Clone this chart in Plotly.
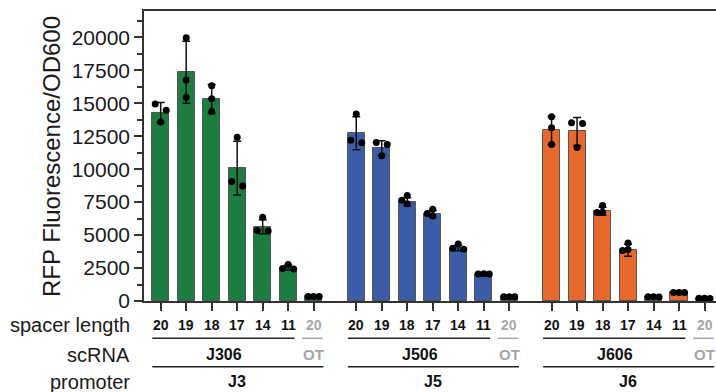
import plotly.graph_objects as go

# ---- data -------------------------------------------------------------
spacer_lengths = ["20", "19", "18", "17", "14", "11", "20"]
promoters = ["J3", "J5", "J6"]
scrnas = ["J306", "J506", "J606"]
offtarget_label = "OT"

# mean RFP/OD600, standard deviation and the three replicates per bar
j3_mean = [14300, 17350, 15320, 10080, 5620, 2540, 350]
j3_sd = [760, 2350, 1100, 2040, 540, 190, 20]
j3_reps = [[14940, 14480, 13570], [19970, 16760, 15440], [16330, 15340, 14380],
           [12430, 9070, 8730], [6355, 5345, 5315], [2760, 2460, 2430],
           [340, 340, 340]]

j5_mean = [12730, 11600, 7520, 6600, 4020, 2040, 320]
j5_sd = [1250, 550, 320, 260, 210, 20, 10]
j5_reps = [[14180, 12200, 12000], [12030, 11880, 11010], [8000, 7650, 7370],
           [6960, 6640, 6450], [4330, 4000, 3930], [2060, 2050, 2040],
           [330, 330, 320]]

j6_mean = [12940, 12860, 6810, 3850, 320, 650, 200]
j6_sd = [1060, 1070, 300, 450, 10, 10, 10]
j6_reps = [[13970, 13140, 11880], [13520, 13470, 11650], [7240, 6740, 6710],
           [4400, 3900, 3830], [320, 320, 310], [650, 650, 640],
           [210, 200, 190]]

group_colors = ["#1b7d3f", "#3b5da9", "#e8692b"]

# ---- geometry ---------------------------------------------------------
W, H = 716, 392
M_L, M_R, M_T, M_B = 144, 0, 11, 91
plot_w = W - M_L - M_R
plot_h = H - M_T - M_B
X_RANGE = [-0.655, 21.78]
Y_RANGE = [0, 22000]
px_per_x = plot_w / (X_RANGE[1] - X_RANGE[0])
px_per_y = plot_h / (Y_RANGE[1] - Y_RANGE[0])
group_starts = [0.0, 7.67, 15.33]
FONT = "Liberation Sans, Arial, Helvetica, sans-serif"


def paper_y(py):
    """Pixel row (from top of page) -> paper y coordinate."""
    return (H - M_B - py) / plot_h


def paper_x(px):
    return (px - M_L) / plot_w


def swarm_offsets(values, step_px=5.5, diam_px=5.4):
    """Spread overlapping replicate dots sideways, in x data units."""
    order = sorted(range(len(values)), key=lambda i: -values[i])
    clusters, cur = [], [order[0]]
    for a, b in zip(order, order[1:]):
        if abs(values[a] - values[b]) * px_per_y < 7.0:
            cur.append(b)
        else:
            clusters.append(cur)
            cur = [b]
    clusters.append(cur)
    offs = {}
    for c in clusters:
        if len(c) == 1:
            offs[c[0]] = 0.0
        elif len(c) == 2:
            offs[c[0]], offs[c[1]] = -step_px, step_px
        else:
            placed = []
            for i in c:
                yi = values[i] * px_per_y
                for cand in (0, -step_px, step_px, -2 * step_px, 2 * step_px):
                    ok = all(((cand - ox) ** 2 + (yi - oy) ** 2) ** 0.5 >= diam_px
                             for ox, oy in placed)
                    if ok:
                        offs[i] = cand
                        placed.append((cand, yi))
                        break
    return [offs[i] / px_per_x for i in range(len(values))]


fig = go.Figure()

groups = [(j3_mean, j3_sd, j3_reps), (j5_mean, j5_sd, j5_reps), (j6_mean, j6_sd, j6_reps)]
all_ticks = []
for g, (means, sds, reps) in enumerate(groups):
    xs = [group_starts[g] + i for i in range(len(means))]
    all_ticks += xs
    fig.add_trace(go.Bar(
        x=xs, y=means, width=0.67,
        marker=dict(color=group_colors[g], line=dict(color="#555555", width=1)),
        error_y=dict(type="data", array=sds, visible=True, color="#111111",
                     thickness=1.5, width=4),
        showlegend=False, hoverinfo="skip"))
    dx, dy = [], []
    for x0, r in zip(xs, reps):
        offs = swarm_offsets(r)
        dx += [x0 + o for o in offs]
        dy += r
    fig.add_trace(go.Scatter(
        x=dx, y=dy, mode="markers", cliponaxis=False,
        marker=dict(color="#000000", size=7, line=dict(width=0)),
        showlegend=False, hoverinfo="skip"))

annotations = []
shapes = []

# row captions on the left
for text, py in (("spacer length", 325), ("scRNA", 354.5), ("promoter", 382)):
    annotations.append(dict(
        text=text, xref="paper", yref="paper", x=paper_x(132), y=paper_y(py),
        xanchor="right", yanchor="middle", showarrow=False,
        font=dict(family=FONT, size=20, color="#1a1a1a")))

GRAY = "#a6a6a6"
for g, start in enumerate(group_starts):
    # spacer lengths under each bar
    for i, s in enumerate(spacer_lengths):
        annotations.append(dict(
            text="<b>%s</b>" % s, xref="x", yref="paper", x=start + i,
            y=paper_y(325), xanchor="center", yanchor="middle", showarrow=False,
            font=dict(family=FONT, size=14,
                      color=GRAY if i == len(spacer_lengths) - 1 else "#111111")))
    # scRNA row
    annotations.append(dict(
        text="<b>%s</b>" % scrnas[g], xref="x", yref="paper", x=start + 2.5,
        y=paper_y(354), xanchor="center", yanchor="middle", showarrow=False,
        font=dict(family=FONT, size=16, color="#111111")))
    annotations.append(dict(
        text="<b>%s</b>" % offtarget_label, xref="x", yref="paper", x=start + 6,
        y=paper_y(354), xanchor="center", yanchor="middle", showarrow=False,
        font=dict(family=FONT, size=15, color=GRAY)))
    # promoter row
    annotations.append(dict(
        text="<b>%s</b>" % promoters[g], xref="x", yref="paper", x=start + 3,
        y=paper_y(381.5), xanchor="center", yanchor="middle", showarrow=False,
        font=dict(family=FONT, size=16, color="#111111")))
    # bracket lines
    shapes.append(dict(type="line", xref="x", yref="paper",
                       x0=start - 0.33, x1=start + 5.25,
                       y0=paper_y(338.3), y1=paper_y(338.3),
                       line=dict(color="#222222", width=1.5)))
    shapes.append(dict(type="line", xref="x", yref="paper",
                       x0=start + 5.55, x1=start + 6.36,
                       y0=paper_y(338.3), y1=paper_y(338.3),
                       line=dict(color=GRAY, width=1.5)))
    shapes.append(dict(type="line", xref="x", yref="paper",
                       x0=start - 0.33, x1=start + 6.38,
                       y0=paper_y(366.7), y1=paper_y(366.7),
                       line=dict(color="#222222", width=1.5)))

# y-axis title
annotations.append(dict(
    text="RFP Fluorescence/OD600", xref="paper", yref="paper",
    x=paper_x(51), y=paper_y(157), textangle=-90,
    xanchor="center", yanchor="middle", showarrow=False,
    font=dict(family=FONT, size=24, color="#1a1a1a")))

fig.update_layout(
    width=W, height=H,
    margin=dict(l=M_L, r=M_R, t=M_T, b=M_B, pad=0),
    paper_bgcolor="white", plot_bgcolor="white",
    bargap=0, barmode="overlay",
    annotations=annotations, shapes=shapes,
    font=dict(family=FONT, color="#1a1a1a"),
)
fig.update_xaxes(
    range=X_RANGE, showgrid=False, zeroline=False,
    showline=True, linecolor="#333333", linewidth=1.5, mirror=True,
    ticks="outside", ticklen=8, tickwidth=1.5, tickcolor="#333333",
    tickvals=all_ticks, showticklabels=False)
fig.update_yaxes(
    range=Y_RANGE, showgrid=False, zeroline=False,
    showline=True, linecolor="#333333", linewidth=1.5,
    ticks="outside", ticklen=8, tickwidth=1.5, tickcolor="#333333",
    tick0=0, dtick=2500, tickformat="d",
    tickfont=dict(family=FONT, size=21, color="#1a1a1a"),
    minor=dict(ticks="outside", ticklen=5, tickwidth=1.5, tickcolor="#333333",
               dtick=1250, tick0=0, showgrid=False))

fig.write_html("out.html")
